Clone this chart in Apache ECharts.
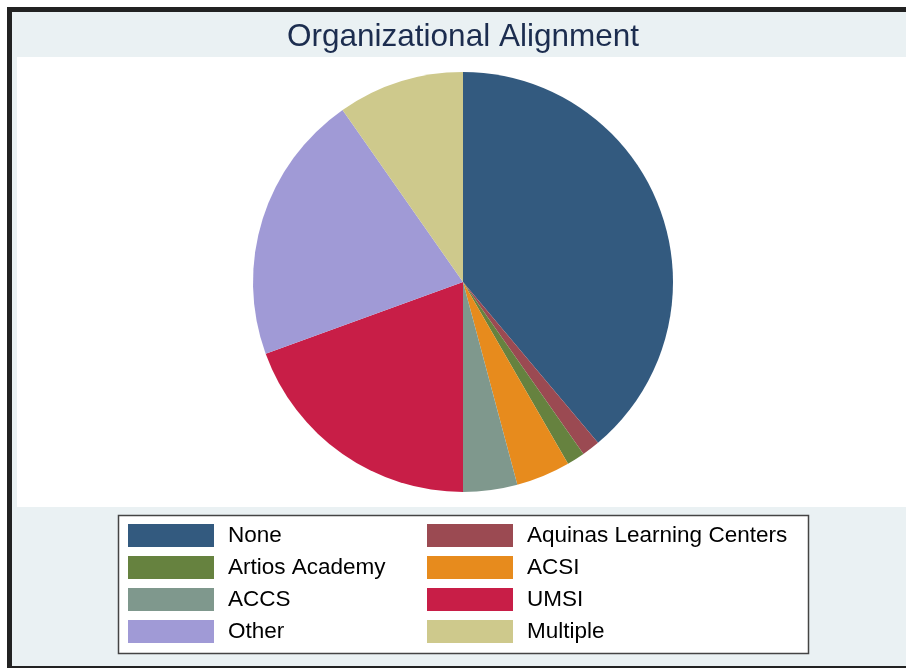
<!DOCTYPE html>
<html lang="en">
<head>
  <meta charset="UTF-8">
  <title>Organizational Alignment</title>
  <script src="https://cdn.jsdelivr.net/npm/echarts@6/dist/echarts.min.js"></script>
  <style>
    body { margin: 0; background: #fff; }
  </style>
</head>
<body>
  <div id="app" style="width: 906px; height: 668px;"></div>
  <script>
    // data
    var categories = ['None', 'Aquinas Learning Centers', 'Artios Academy', 'ACSI', 'ACCS', 'UMSI', 'Other', 'Multiple']
    var counts = [28, 1, 1, 3, 3, 14, 15, 7]
    var colors = ['#335a7f', '#9b4a52', '#66823f', '#e78b1d', '#7f988d', '#c81e47', '#a09ad6', '#cec98c']
    var legendLeft = ['None', 'Artios Academy', 'ACCS', 'Other']
    var legendRight = ['Aquinas Learning Centers', 'ACSI', 'UMSI', 'Multiple']

    var pieData = categories.map(function (c, i) {
      return { name: c, value: counts[i], itemStyle: { color: colors[i] } }
    })

    var legendText = { fontFamily: 'Liberation Sans', fontSize: 22.5, color: '#000', padding: [0, 0, 0, 9] }

    var mCharts = echarts.init(document.querySelector('#app'))
    var option = {
      animation: false,
      graphic: [
        { type: 'rect', z: -10, shape: { x: 7, y: 7, width: 899, height: 661 }, style: { fill: '#222' } },
        { type: 'rect', z: -9, shape: { x: 12, y: 12, width: 894, height: 654 }, style: { fill: '#eaf1f3' } },
        { type: 'rect', z: -8, shape: { x: 17, y: 57, width: 889, height: 450 }, style: { fill: '#fff' } },
        { type: 'rect', z: -7, shape: { x: 118.5, y: 515.5, width: 690, height: 138 }, style: { fill: '#fff', stroke: '#444', lineWidth: 1.5 } }
      ],
      title: {
        text: 'Organizational Alignment',
        left: 463,
        textAlign: 'center',
        top: 21,
        padding: 0,
        textStyle: { fontFamily: 'Liberation Sans', fontSize: 31.5, fontWeight: 'normal', color: '#1c2d4f' }
      },
      legend: [
        {
          data: legendLeft, orient: 'vertical', left: 128, top: 524, padding: 0,
          itemWidth: 86, itemHeight: 23, itemGap: 9, icon: 'rect',
          selectedMode: false, textStyle: legendText
        },
        {
          data: legendRight, orient: 'vertical', left: 427, top: 524, padding: 0,
          itemWidth: 86, itemHeight: 23, itemGap: 9, icon: 'rect',
          selectedMode: false, textStyle: legendText
        }
      ],
      series: [
        {
          type: 'pie',
          center: [463, 282],
          radius: 210,
          startAngle: 90,
          clockwise: true,
          label: { show: false },
          labelLine: { show: false },
          emphasis: { disabled: true },
          itemStyle: { borderWidth: 0 },
          data: pieData
        }
      ]
    }
    mCharts.setOption(option)
  </script>
</body>
</html>
